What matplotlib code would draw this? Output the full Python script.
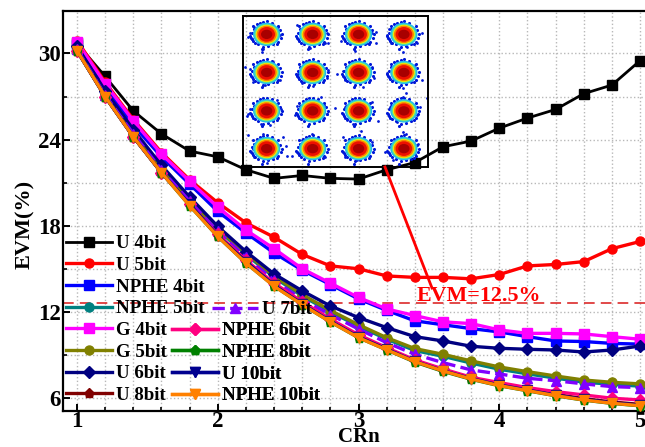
import matplotlib
matplotlib.use("Agg")
import matplotlib.pyplot as plt
from matplotlib.patches import Ellipse

crn = [1.0, 1.2, 1.4, 1.6, 1.8, 2.0, 2.2, 2.4, 2.6, 2.8, 3.0, 3.2, 3.4, 3.6, 3.8, 4.0, 4.2, 4.4, 4.6, 4.8, 5.0]

u4 = [30.7, 28.4, 26.0, 24.4, 23.2, 22.8, 21.9, 21.3, 21.5, 21.3, 21.25, 21.9, 22.4, 23.5, 23.9, 24.8, 25.5, 26.1, 27.2, 27.8, 29.5]
u5 = [30.9, 28.0, 25.4, 23.1, 21.2, 19.6, 18.2, 17.2, 16.0, 15.2, 15.0, 14.5, 14.4, 14.4, 14.3, 14.6, 15.2, 15.3, 15.5, 16.4, 16.9]
nphe4 = [30.6, 27.6, 25.0, 22.8, 20.9, 19.0, 17.5, 16.1, 14.9, 13.9, 12.9, 12.1, 11.37, 11.1, 10.83, 10.6, 10.27, 9.97, 9.93, 9.8, 9.75]
nphe5 = [30.3, 27.1, 24.3, 21.9, 19.7, 17.7, 16.0, 14.4, 13.1, 12.0, 11.0, 10.1, 9.3, 8.9, 8.43, 8.0, 7.68, 7.38, 7.1, 6.95, 6.82]
g4 = [30.8, 27.9, 25.3, 23.0, 21.1, 19.3, 17.7, 16.4, 15.0, 14.0, 13.0, 12.2, 11.74, 11.3, 11.18, 10.74, 10.5, 10.5, 10.46, 10.27, 10.09]
g5 = [30.3, 27.1, 24.4, 22.0, 19.8, 17.8, 16.1, 14.5, 13.2, 12.1, 11.1, 10.2, 9.44, 9.04, 8.58, 8.16, 7.83, 7.53, 7.25, 7.09, 6.98]
u6 = [30.5, 27.4, 24.7, 22.2, 20.0, 17.95, 16.2, 14.64, 13.46, 12.41, 11.6, 10.9, 10.27, 9.97, 9.6, 9.46, 9.39, 9.34, 9.2, 9.34, 9.62]
u8 = [30.2, 27.0, 24.2, 21.7, 19.5, 17.3, 15.5, 13.9, 12.6, 11.4, 10.3, 9.4, 8.6, 7.95, 7.4, 6.95, 6.6, 6.25, 5.95, 5.72, 5.55]
u7 = [30.3, 27.1, 24.4, 21.9, 19.7, 17.6, 15.8, 14.2, 12.85, 11.8, 10.8, 9.85, 9.04, 8.46, 7.95, 7.67, 7.37, 7.2, 6.98, 6.79, 6.72]
nphe6 = [30.2, 27.0, 24.2, 21.7, 19.5, 17.4, 15.6, 14.0, 12.7, 11.5, 10.4, 9.5, 8.65, 8.02, 7.44, 7.07, 6.72, 6.44, 6.21, 5.98, 5.86]
nphe8 = [30.2, 27.0, 24.2, 21.7, 19.4, 17.25, 15.4, 13.8, 12.5, 11.3, 10.2, 9.35, 8.5, 7.85, 7.3, 6.85, 6.5, 6.15, 5.85, 5.62, 5.45]
u10 = [30.2, 27.0, 24.2, 21.7, 19.5, 17.3, 15.5, 13.85, 12.55, 11.35, 10.25, 9.4, 8.55, 7.9, 7.35, 6.9, 6.55, 6.2, 5.9, 5.67, 5.5]
nphe10 = [30.2, 27.0, 24.2, 21.7, 19.4, 17.25, 15.4, 13.78, 12.5, 11.3, 10.2, 9.35, 8.53, 7.88, 7.32, 6.86, 6.51, 6.16, 5.86, 5.63, 5.46]

evm_limit = 12.6

col_x = [110, 248, 386, 522]
row_y = [103, 217, 332, 445]
ring_w = [82, 74, 66, 60, 50, 34]
ring_h = [70, 63, 57, 52, 44, 28]
ring_c = ["#20b8f0", "#50e0a8", "#f0f000", "#f88000", "#ee1000", "#a80000"]
halo_dx = [-50, -45, -40, -30, -10, 0, 35, 45, 42, 35, 20, 5, -10, -15, -25, -42, -48, -38, -20, 15, 30, -35, 40, -44]
halo_dy = [6, -5, -25, -30, -38, -40, -25, 0, 10, 22, 30, 35, 38, 45, 30, 20, 10, -15, -35, -35, 28, 25, -12, 14]
dots_x = [60, 72, 66, 98, 95, 150, 145, 130, 55, 200, 212, 292, 285, 278, 295, 240, 232, 360, 332, 425, 437, 410, 374, 438,
          472, 482, 576, 560, 520, 530, 478, 44, 60, 70, 105, 150, 145, 128, 205, 215, 290, 295, 320, 250, 235, 340, 345, 432, 425, 398,
          472, 490, 575, 555, 520, 528, 60, 55, 50, 92, 120, 152, 140, 105, 200, 195, 292, 282, 272, 315, 250, 345, 352, 443, 425, 370, 390,
          480, 500, 570, 560, 592, 520, 55, 72, 70, 158, 168, 172, 185, 112, 98, 215, 210, 285, 240, 245, 338, 345, 425, 392, 380,
          465, 490, 565, 518, 528, 555]
dots_y = [100, 80, 118, 148, 155, 105, 82, 128, 110, 75, 110, 100, 130, 85, 130, 145, 72, 100, 122, 100, 96, 130, 152, 128,
          104, 130, 100, 130, 155, 142, 88, 200, 208, 245, 255, 240, 210, 185, 222, 248, 235, 210, 223, 258, 185, 212, 240, 235, 200, 260,
          218, 240, 240, 195, 265, 278, 325, 340, 348, 372, 375, 325, 300, 298, 318, 345, 340, 315, 290, 323, 295, 320, 360, 362, 305, 372, 296,
          320, 365, 320, 345, 293, 290, 405, 470, 445, 410, 438, 468, 468, 488, 400, 420, 460, 470, 455, 400, 410, 470, 425, 392, 480,
          455, 478, 430, 395, 402, 460]

fig = plt.figure(figsize=(6.45, 4.47), dpi=100)
plt.rcParams["font.family"] = "Liberation Serif"
plt.rcParams["font.weight"] = "bold"
W, H = 645.0, 447.0
ax = fig.add_axes([62.5/W, (H-411)/H, (W-62.5)/W, 400/H])

ax.axhline(evm_limit, color="#d81818", lw=1.1, dashes=(7, 4), zorder=1.5)

styles = [
    (u4, "U 4bit", "#000000", "s", "-"),
    (u5, "U 5bit", "#ff0000", "o", "-"),
    (nphe4, "NPHE 4bit", "#0000ff", "s", "-"),
    (nphe5, "NPHE 5bit", "#008080", "o", "-"),
    (g4, "G 4bit", "#ff00ff", "s", "-"),
    (g5, "G 5bit", "#808000", "o", "-"),
    (u6, "U 6bit", "#000080", "D", "-"),
    (u8, "U 8bit", "#800000", "p", "-"),
    (u7, "U 7bit", "#8000ff", "^", "--"),
    (nphe6, "NPHE 6bit", "#ff0080", "D", "-"),
    (nphe8, "NPHE 8bit", "#008000", "p", "-"),
    (u10, "U 10bit", "#000090", "v", "-"),
    (nphe10, "NPHE 10bit", "#ff8000", "v", "-"),
]
handles = {}
for i, (vals, name, col, mk, ls) in enumerate(styles):
    lw = 2.0 if name == "U 4bit" else 2.4
    line, = ax.plot(crn, vals, color=col, marker=mk, ls=ls, lw=lw, ms=6.5,
                    label=name, zorder=3+i*0.1, clip_on=True)
    handles[name] = line

ax.set_xlim(0.897, 5.035)
ax.set_ylim(5.09, 32.96)
ax.set_xticks([1, 2, 3, 4, 5])
ax.set_xticks(crn, minor=True)
ax.set_yticks([6, 12, 18, 24, 30])
ax.set_yticks([9, 15, 21, 27], minor=True)
ax.tick_params(axis="both", which="major", direction="in", length=5, width=1.4, labelsize=16.5, pad=1)
ax.tick_params(axis="x", which="major", pad=0)
ax.tick_params(axis="both", which="minor", direction="in", length=3, width=1.2)
ax.grid(True, which="both", color="#b8b8b8", ls=":", lw=1.0)
ax.set_axisbelow(True)
for s in ["left", "bottom", "top"]:
    ax.spines[s].set_linewidth(1.6)
ax.spines["right"].set_visible(False)
for lab in ax.get_xticklabels() + ax.get_yticklabels():
    lab.set_fontweight("bold")

fig.text(25/W, 1-224/H, "EVM(%)", rotation=90, fontsize=16, fontweight="bold", ha="center", va="center")
fig.text(359/W, 1-442/H, "CRn", fontsize=15, fontweight="bold", ha="center", va="baseline")
fig.text(417/W, 1-301/H, "EVM=12.5%", fontsize=15.8, fontweight="bold", color="#ff0000", ha="left", va="baseline")

# three separate legend blocks, the original has a staggered layout
def block(names, x, y):
    leg = ax.legend([handles[n] for n in names], names, loc="upper left",
                    bbox_to_anchor=(x/W, 1-y/H), bbox_transform=fig.transFigure,
                    frameon=False, borderpad=0, borderaxespad=0, handlelength=2.45,
                    handletextpad=0.22, labelspacing=0.235,
                    prop={"family": "Liberation Serif", "weight": "bold", "size": 13.6})
    leg.set_zorder(10)
    ax.add_artist(leg)

block(["U 4bit", "U 5bit", "NPHE 4bit", "NPHE 5bit", "G 4bit", "G 5bit", "U 6bit", "U 8bit"], 66, 235)
block(["U 7bit"], 212, 301)
block(["NPHE 6bit", "NPHE 8bit", "U 10bit", "NPHE 10bit"], 172, 322)

# red pointer from inset to the limit label
fig.add_artist(plt.Line2D([385/W, 432/W], [1-167/H, 1-288/H], color="#ff0000", lw=2.0, zorder=6))

ins = fig.add_axes([242.7/W, 1-167/H, 185.5/W, 151/H], zorder=5)
ins.patch.set_alpha(0)
ins.set_xlim(38, 595)
ins.set_ylim(500, 48)
ins.set_xticks([])
ins.set_yticks([])
for s in ins.spines.values():
    s.set_linewidth(1.4)
ins.scatter(dots_x, dots_y, s=4, color="#0018d8", lw=0)
for y0 in row_y:
    for x0 in col_x:
        ins.scatter([x0 + d for d in halo_dx], [y0 + d for d in halo_dy], s=5, color="#0018d8", lw=0)
        for w, h, c in zip(ring_w, ring_h, ring_c):
            ins.add_patch(Ellipse((x0, y0), w, h, fc=c, ec="none"))

fig.savefig("out.png", dpi=100)
